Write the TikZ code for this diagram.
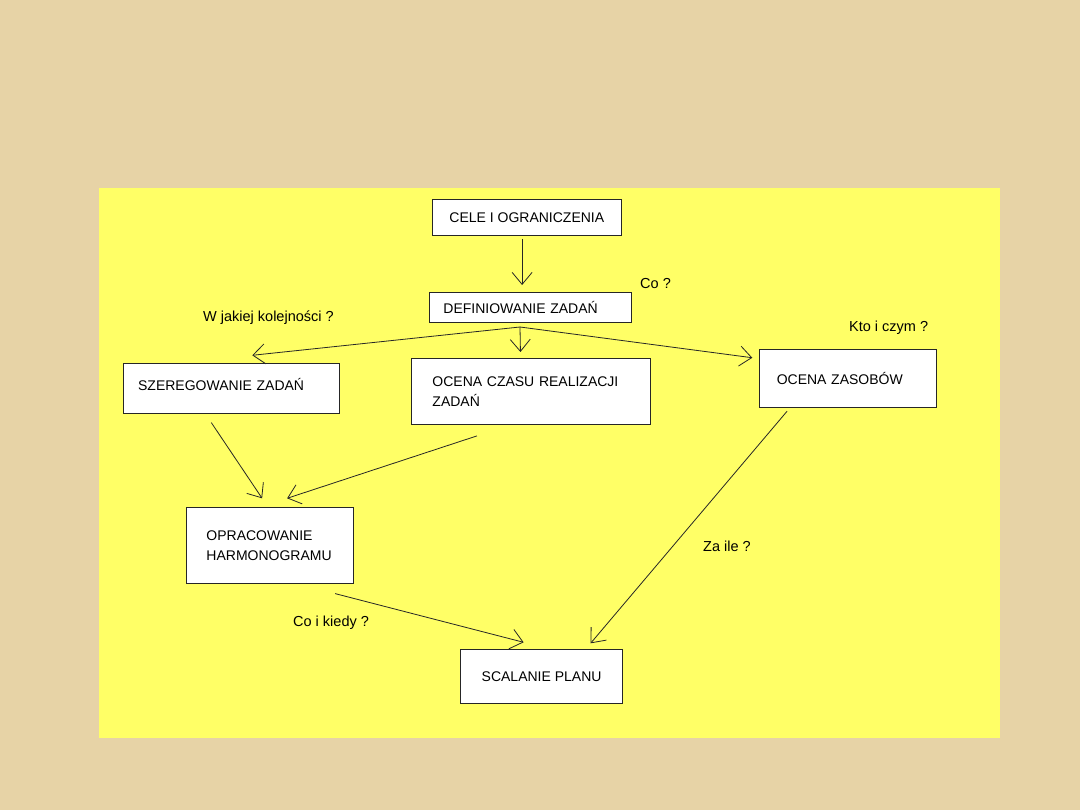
\documentclass[tikz,border=0pt]{standalone}
\usepackage{fontspec}
\setmainfont{Liberation Sans}
\usetikzlibrary{arrows.meta}
\definecolor{parchment}{RGB}{231,211,166}
\definecolor{sheet}{RGB}{255,255,102}
\begin{document}
\begin{tikzpicture}[x=1pt,y=-1pt]
\tikzstyle{box}=[draw=black!85, line width=0.9pt, fill=white, anchor=north west, inner ysep=2pt, align=left,
    font=\fontsize{14}{19.5}\selectfont]
\tikzstyle{ask}=[anchor=base west, inner sep=0pt, font=\fontsize{14.5}{17}\selectfont]
\tikzstyle{arr}=[draw=black!85, line width=0.8pt, -{Straight Barb[length=12pt,width=20pt]}]
    % background and sheet
    \fill[parchment] (0,0) rectangle (1080,810);
    \fill[sheet] (99,188) rectangle (1000,738);

    \node[box, align=center, minimum width=189.3pt, minimum height=35.7pt] (cele) at (431.7,199.3) {CELE I OGRANICZENIA};
    \node[box, inner xsep=14pt, text width=173.7pt, minimum height=30pt] (def) at (429,291.7) {DEFINIOWANIE ZADAŃ};
    \node[box, inner xsep=15pt, text width=186.3pt, minimum height=49.4pt, text depth=9pt] (szer) at (122.7,363.3) {SZEREGOWANIE ZADAŃ};
    \node[box, inner xsep=21pt, text width=197pt, minimum height=66pt] (czas) at (411,358) {OCENA CZASU REALIZACJI\\ZADAŃ};
    \node[box, inner xsep=17pt, text width=142.7pt, minimum height=58pt] (zas) at (759.3,349.3) {OCENA ZASOBÓW};
    \node[box, inner xsep=20pt, text width=127.3pt, minimum height=75.4pt] (harm) at (186,507.3) {OPRACOWANIE\\HARMONOGRAMU};
    \node[box, align=center, minimum width=162.3pt, minimum height=53.4pt] (plan) at (460,649.3) {SCALANIE PLANU};

    \coordinate (split) at (520,327);

    \node[ask] (co) at (640,289) {Co ?};
    \node[ask] (kolej) at (203,321.7) {W jakiej kolejności ?};
    \node[ask] (kto) at (849,331.7) {Kto i czym ?};
    \node[ask] (kiedy) at (293,626.7) {Co i kiedy ?};
    \node[ask] (ile) at (703,551.7) {Za ile ?};

    \draw[arr] ([xshift=-4.7pt,yshift=-3pt]cele.south) -- ([xshift=-8.2pt,yshift=6.7pt]def.north);

    \draw[arr] (split) -- ([xshift=21pt,yshift=8pt]szer.north);
    \draw[arr] (split) -- ([xshift=-10.5pt,yshift=6pt]czas.north);
    \draw[arr] (split) -- ([xshift=-7pt,yshift=21pt]zas.west);

    \draw[arr] ([xshift=-20pt,yshift=-9pt]szer.south) -- ([xshift=-8pt,yshift=9pt]harm.north);
    \draw[arr] ([xshift=-54pt,yshift=-11pt]czas.south) -- ([xshift=17pt,yshift=9pt]harm.north);

    \draw[arr] ([xshift=65pt,yshift=-10pt]harm.south) -- ([xshift=-18pt,yshift=7pt]plan.north);
    \draw[arr] ([xshift=-61pt,yshift=-3pt]zas.south) -- ([xshift=49pt,yshift=6pt]plan.north);

\end{tikzpicture}
\end{document}
